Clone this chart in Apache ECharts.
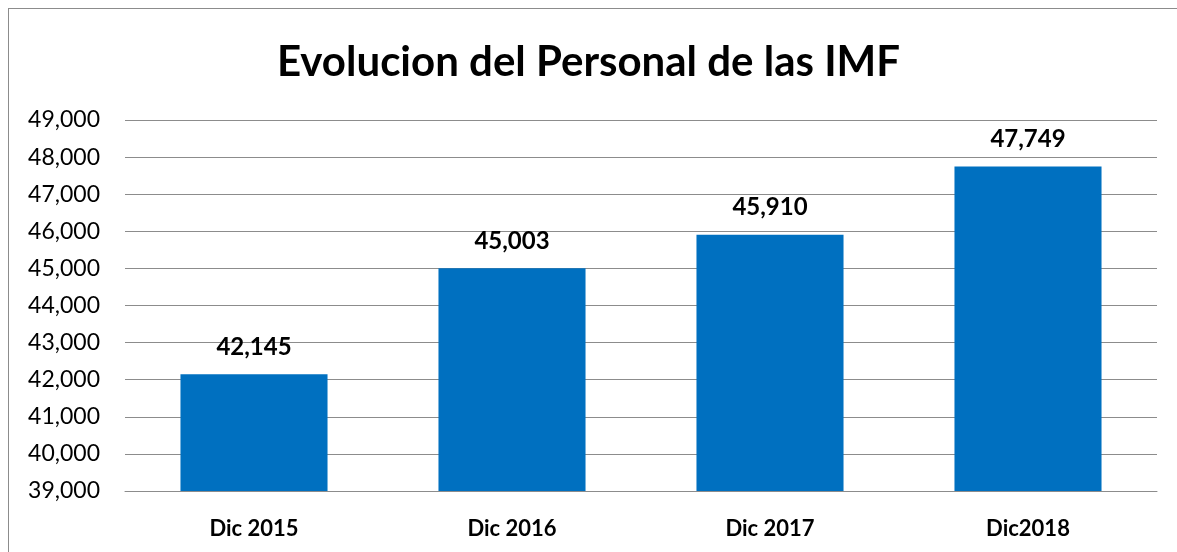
<!DOCTYPE html>
<html>
<head>
<meta charset="utf-8">
<script src="https://cdn.jsdelivr.net/npm/echarts@6/dist/echarts.min.js"></script>
<style>
    html, body { margin: 0; padding: 0; background: #fff; overflow: hidden; }
    #frame {
        position: absolute;
        left: 8px;
        top: 8px;
        width: 1180px;
        height: 560px;
        border: 1px solid #8c8c8c;
        box-sizing: border-box;
    }
    #chart { position: absolute; left: 0; top: 0; width: 1177px; height: 552px; }
</style>
</head>
<body>
<div id="frame"></div>
<div id="chart"></div>
<script>
const categories = ["Dic 2015", "Dic 2016", "Dic 2017", "Dic2018"];
const personal = [42145, 45003, 45910, 47749];
const titleText = "Evolucion del Personal de las IMF";

const fontName = "Lato, 'Open Sans', sans-serif";

function fmt(v) {
    return Number(v).toLocaleString("en-US");
}

const myChart = echarts.init(document.getElementById("chart"));
const option = {
    backgroundColor: "transparent",
    animation: false,
    title: {
        text: titleText,
        left: "center",
        top: 36,
        textStyle: {
            color: "#000",
            fontSize: 42,
            fontWeight: "bold",
            fontFamily: fontName
        }
    },
    grid: {
        left: 125,
        right: 20,
        top: 120,
        bottom: 61
    },
    xAxis: {
        type: "category",
        data: categories,
        axisLine: { show: true, lineStyle: { color: "#8c8c8c", width: 1 } },
        axisTick: { show: false },
        axisLabel: {
            color: "#000",
            fontSize: 22,
            fontWeight: "bold",
            fontFamily: fontName,
            margin: 27
        }
    },
    yAxis: {
        type: "value",
        min: 39000,
        max: 49000,
        interval: 1000,
        axisLine: { show: false },
        axisTick: { show: false },
        splitLine: { lineStyle: { color: "#8c8c8c", width: 1 } },
        axisLabel: {
            color: "#000",
            fontSize: 23,
            fontFamily: fontName,
            margin: 25,
            formatter: fmt
        }
    },
    series: [
        {
            name: "Personal",
            type: "bar",
            data: personal,
            barWidth: "57%",
            itemStyle: { color: "#0070c0" },
            label: {
                show: true,
                position: "top",
                distance: 15,
                color: "#000",
                fontSize: 24,
                fontWeight: "bold",
                fontFamily: fontName,
                formatter: p => fmt(p.value)
            }
        }
    ]
};
myChart.setOption(option);
</script>
</body>
</html>
